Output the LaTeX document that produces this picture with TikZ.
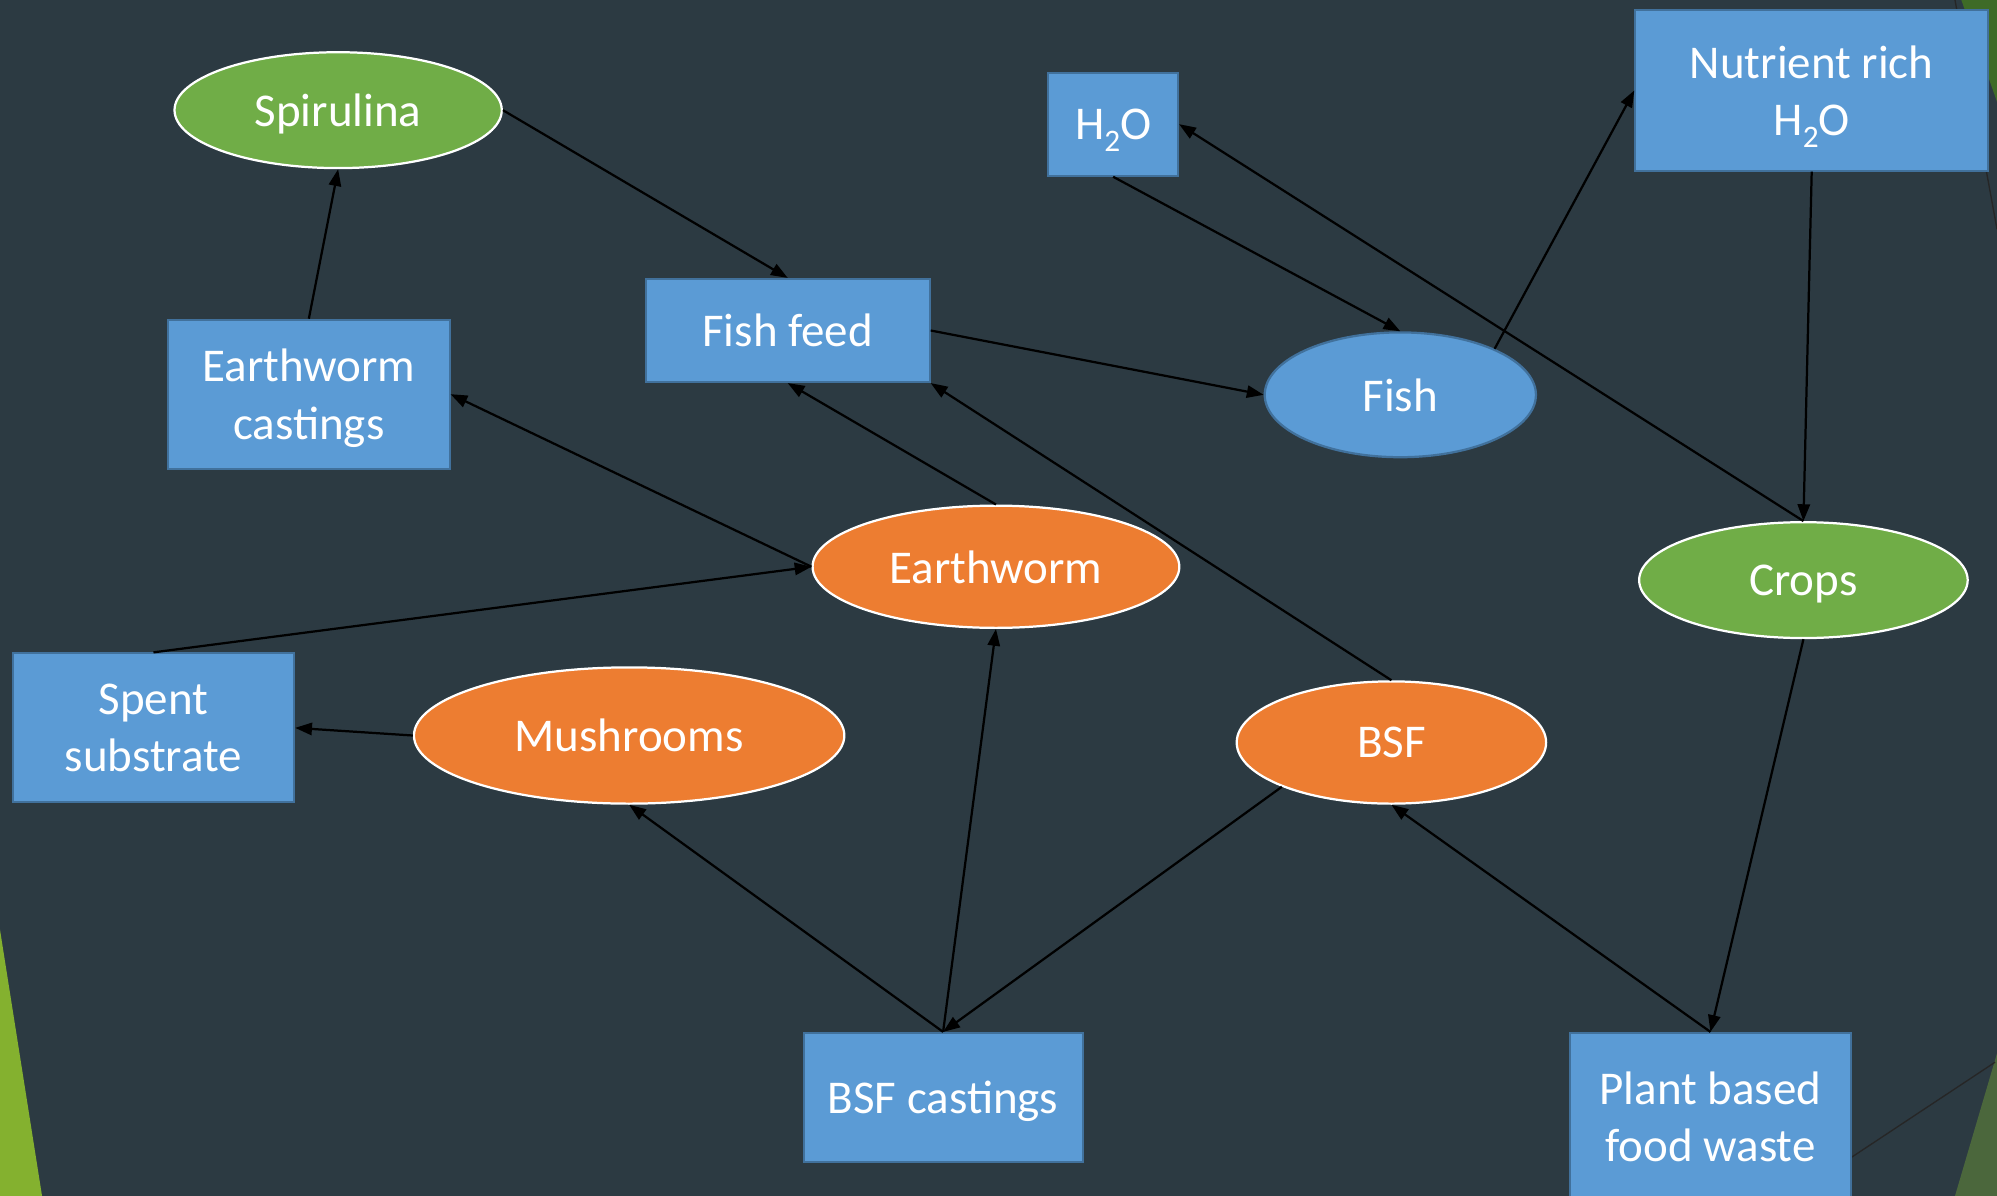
\documentclass[tikz,border=0pt]{standalone}
\usepackage{fontspec}
\setmainfont{Carlito}
\usetikzlibrary{shapes.geometric}
\usetikzlibrary{arrows.meta}

\definecolor{slate}{HTML}{2C3A42}
\definecolor{boxblue}{HTML}{5B9BD5}
\definecolor{boxedge}{HTML}{41719C}
\definecolor{leafgreen}{HTML}{70AD47}
\definecolor{rust}{HTML}{ED7D31}
\definecolor{limegreen}{HTML}{84B12F}
\definecolor{darkmoss}{HTML}{3E6B27}
\definecolor{mossgrey}{HTML}{4B673C}

\newcommand{\lowtwo}{\raisebox{-0.26em}{\fontsize{14}{14}\selectfont 2}}

\tikzset{
  box/.style={rectangle, draw=boxedge, fill=boxblue, line width=0.9pt, inner sep=0pt,
    text=white, align=center, text depth=0pt, font=\fontsize{21}{25.6}\selectfont},
  blob/.style={ellipse, draw=white, line width=1pt, inner sep=0pt,
    text=white, align=center, text depth=0pt, font=\fontsize{21}{25.6}\selectfont},
}

\begin{document}
\begin{tikzpicture}[x=0.02cm, y=-0.02cm, >={Triangle[length=7.5pt,width=5.5pt]},
  every edge/.append style={line width=1pt}]
\useasboundingbox (0,0) rectangle (1568,939);
\clip (0,0) rectangle (1568,939);
\fill[slate] (0,0) rectangle (1568,939);
\fill[limegreen] (0,730) -- (0,939) -- (33,939) -- cycle;
\fill[darkmoss] (1540,0) -- (1568,0) -- (1568,80) -- cycle;
\fill[mossgrey] (1568,827) -- (1535,939) -- (1568,939) -- cycle;
\draw[line width=0.6pt, black!85] (1535,0) -- (1568,180);
\draw[line width=0.6pt, black!85] (1454,908.5) -- (1566.5,834);

\node[blob, fill=leafgreen, minimum width=5.14cm, minimum height=1.82cm] (spirulina) at (265.5,86.5) {Spirulina};
\node[box, minimum width=2.04cm, minimum height=1.62cm] (water) at (874,97.5) {H\lowtwo O};
\node[box, minimum width=5.54cm, minimum height=2.52cm] (nutrient) at (1422.5,71) {Nutrient rich\\H\lowtwo O};
\node[box, minimum width=4.42cm, minimum height=2.34cm] (castings) at (242.5,309.5) {Earthworm\\castings};
\node[box, minimum width=4.46cm, minimum height=1.62cm] (feed) at (618.5,259.5) {Fish feed};
\node[blob, draw=boxedge, fill=boxblue, minimum width=4.26cm, minimum height=1.96cm] (fish) at (1099.5,310) {Fish};
\node[blob, fill=rust, minimum width=5.76cm, minimum height=1.92cm] (worm) at (782,445) {Earthworm};
\node[blob, fill=leafgreen, minimum width=5.16cm, minimum height=1.82cm] (crops) at (1416,455.5) {Crops};
\node[box, minimum width=4.42cm, minimum height=2.34cm] (spent) at (120.5,571.5) {Spent\\substrate};
\node[blob, fill=rust, minimum width=6.76cm, minimum height=2.14cm] (mushrooms) at (494,577.5) {Mushrooms};
\node[blob, fill=rust, minimum width=4.86cm, minimum height=1.92cm] (bsf) at (1092.5,583) {BSF};
\node[box, minimum width=4.38cm, minimum height=2.02cm] (bsfcast) at (740.5,861.5) {BSF castings};
\node[box, minimum width=4.4cm, minimum height=2.64cm] (waste) at (1343,877) {Plant based\\food waste};

\path[->] (spirulina.east) edge (feed.north);
\path[->] (castings.north) edge (spirulina.south);
\path[->] (feed.east) edge (fish.west);
\path[->] (water.south) edge (fish.north);
\path[->] (fish.26) edge (nutrient.west);
\path[->] (crops.north) edge (water.east);
\path[->] (nutrient.south) edge (crops.north);
\path[->] (crops.south) edge (waste.north);
\path[->] (waste.north) edge (bsf.south);
\path[->] (bsf.north) edge (feed.south east);
\path[->] (worm.north) edge (feed.south);
\path[->] (worm.west) edge (castings.east);
\path[->] (spent.north) edge (worm.west);
\path[->] (mushrooms.west) edge (spent.east);
\path[->] (bsfcast.north) edge (mushrooms.south);
\path[->] (bsfcast.north) edge (worm.south);
\path[->] (bsf.202) edge (bsfcast.north);
\end{tikzpicture}
\end{document}
